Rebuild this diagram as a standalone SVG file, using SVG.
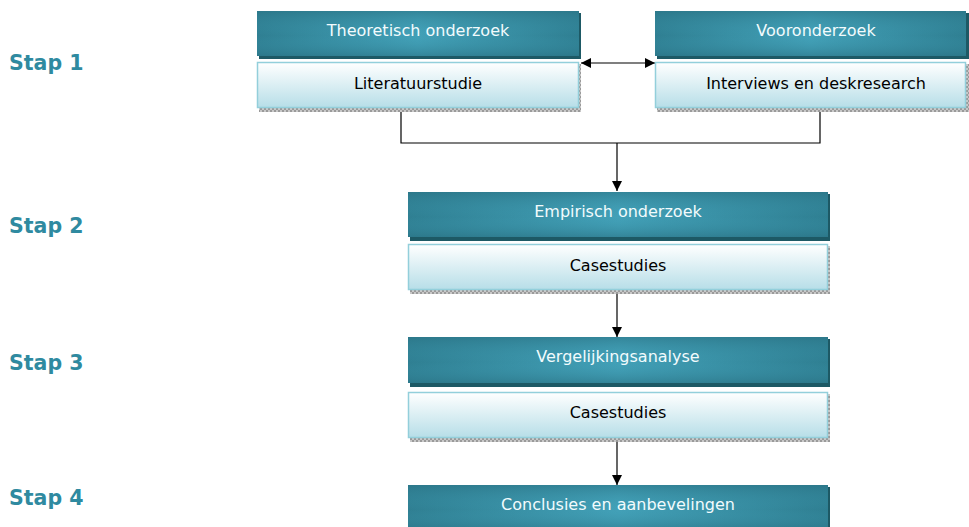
<svg xmlns="http://www.w3.org/2000/svg" width="969" height="527" viewBox="0 0 969 527">
<defs>
<linearGradient id="darkH" x1="0" y1="0" x2="1" y2="0">
<stop offset="0" stop-color="#2f7f92"/>
<stop offset="0.5" stop-color="#42a0b7"/>
<stop offset="1" stop-color="#2f7f92"/>
</linearGradient>
<linearGradient id="darkV" x1="0" y1="0" x2="0" y2="1">
<stop offset="0" stop-color="#2a7385" stop-opacity="0.6"/>
<stop offset="0.55" stop-color="#3f9cb3" stop-opacity="0"/>
<stop offset="1" stop-color="#2a7385" stop-opacity="0.6"/>
</linearGradient>
<linearGradient id="light" x1="0" y1="0" x2="0" y2="1">
<stop offset="0" stop-color="#ffffff"/>
<stop offset="1" stop-color="#b7dee8"/>
</linearGradient>
<pattern id="hatch" width="4" height="4" patternUnits="userSpaceOnUse">
<rect width="4" height="4" fill="#c8c8c8"/>
<rect width="2" height="2" fill="#9a9a9a"/>
<rect x="2" y="2" width="2" height="2" fill="#9a9a9a"/>
</pattern>
<marker id="arr2" viewBox="0 0 10 10" refX="10" refY="5" markerWidth="10" markerHeight="10" markerUnits="userSpaceOnUse" orient="auto-start-reverse">
<path d="M0,0 L10,5 L0,10 z" fill="#000"/>
</marker>
</defs>
<style>
.stap{font-family:"DejaVu Sans",Verdana,sans-serif;font-weight:bold;font-size:20.5px;fill:#2f8aa0}
.hd{font-family:"DejaVu Sans","Liberation Sans",sans-serif;font-size:16px;fill:#f2fbfd;text-anchor:middle}
.sb{font-family:"DejaVu Sans","Liberation Sans",sans-serif;font-size:16px;fill:#000;text-anchor:middle}
.shd{fill:#1d5965}
.lt{fill:url(#light);stroke:#93cfdb;stroke-width:1.5}
.con{fill:none;stroke:#000;stroke-width:1.2}
</style>
<rect width="969" height="527" fill="#fff"/>
<g id="labels">
<text class="stap" x="9" y="70">Stap 1</text>
<text class="stap" x="9" y="233">Stap 2</text>
<text class="stap" x="9" y="370">Stap 3</text>
<text class="stap" x="9" y="505">Stap 4</text>
</g>
<g id="connectors">
<path class="con" d="M401,111 V143 H820 V111"/>
<path class="con" d="M617,143 V191" marker-end="url(#arr2)"/>
<path class="con" d="M617,292 V337" marker-end="url(#arr2)"/>
<path class="con" d="M617,440 V485" marker-end="url(#arr2)"/>
<path class="con" d="M581,63 H655" marker-start="url(#arr2)" marker-end="url(#arr2)"/>
</g>
<g id="n-theoretisch">
<rect class="shd" x="259" y="13" width="322" height="46"/>
<rect x="257" y="11" width="322" height="45" fill="url(#darkH)"/>
<rect x="257" y="11" width="322" height="45" fill="url(#darkV)"/>
<text class="hd" x="418" y="36">Theoretisch onderzoek</text>
</g>
<g id="n-literatuur">
<rect x="259" y="64" width="322" height="48" fill="url(#hatch)"/>
<rect class="lt" x="257.5" y="62.5" width="321" height="45"/>
<text class="sb" x="418" y="89">Literatuurstudie</text>
</g>
<g id="n-vooronderzoek">
<rect class="shd" x="657" y="13" width="312" height="46"/>
<rect x="655" y="11" width="311" height="45" fill="url(#darkH)"/>
<rect x="655" y="11" width="311" height="45" fill="url(#darkV)"/>
<text class="hd" x="816" y="36">Vooronderzoek</text>
</g>
<g id="n-interviews">
<rect x="657" y="64" width="312" height="48" fill="url(#hatch)"/>
<rect class="lt" x="655.5" y="62.5" width="310" height="45"/>
<text class="sb" x="816" y="89">Interviews en deskresearch</text>
</g>
<g id="n-empirisch">
<rect class="shd" x="410" y="194" width="420" height="47"/>
<rect x="408" y="192" width="420" height="45" fill="url(#darkH)"/>
<rect x="408" y="192" width="420" height="45" fill="url(#darkV)"/>
<text class="hd" x="618" y="217">Empirisch onderzoek</text>
</g>
<g id="n-casestudies1">
<rect x="410" y="246" width="420" height="48" fill="url(#hatch)"/>
<rect class="lt" x="408.5" y="244.5" width="419" height="45"/>
<text class="sb" x="618" y="271">Casestudies</text>
</g>
<g id="n-vergelijking">
<rect class="shd" x="410" y="339" width="420" height="48"/>
<rect x="408" y="337" width="420" height="46" fill="url(#darkH)"/>
<rect x="408" y="337" width="420" height="46" fill="url(#darkV)"/>
<text class="hd" x="618" y="362">Vergelijkingsanalyse</text>
</g>
<g id="n-casestudies2">
<rect x="410" y="394" width="420" height="48" fill="url(#hatch)"/>
<rect class="lt" x="408.5" y="392.5" width="419" height="45"/>
<text class="sb" x="618" y="418">Casestudies</text>
</g>
<g id="n-conclusies">
<rect class="shd" x="410" y="487" width="420" height="42"/>
<rect x="408" y="485" width="420" height="45" fill="url(#darkH)"/>
<rect x="408" y="485" width="420" height="45" fill="url(#darkV)"/>
<text class="hd" x="618" y="510">Conclusies en aanbevelingen</text>
</g>
</svg>
